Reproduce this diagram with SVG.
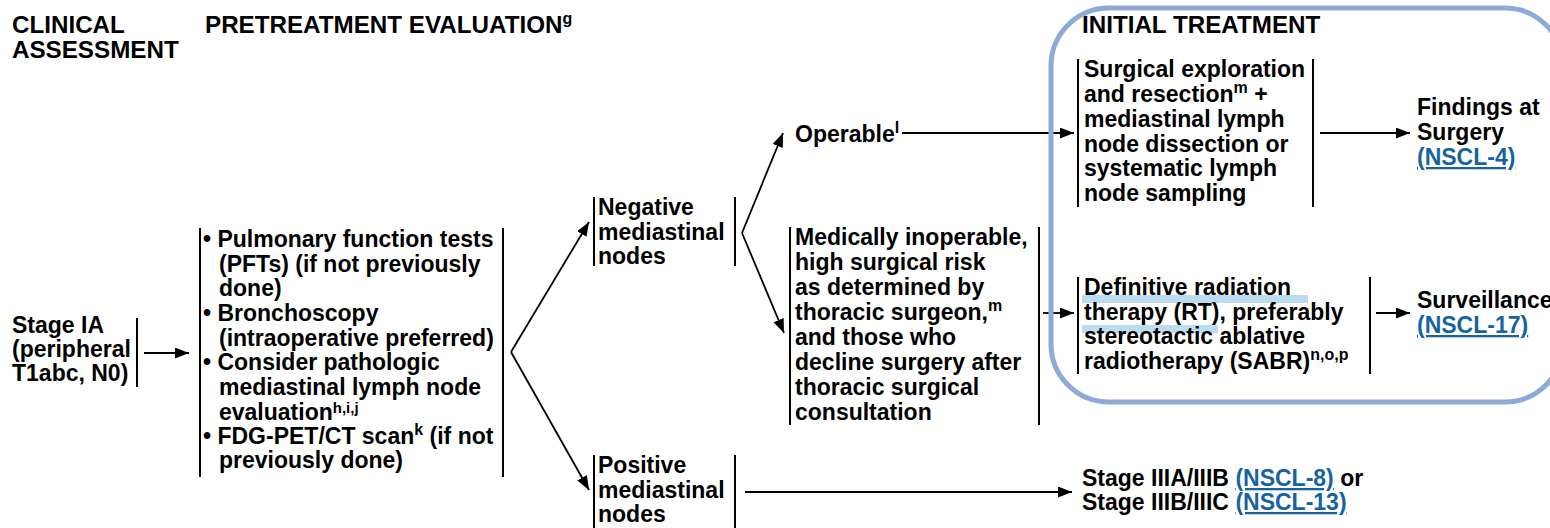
<svg xmlns="http://www.w3.org/2000/svg" width="1550" height="528" viewBox="0 0 1550 528">
<defs>
<style>
text{font-family:"Liberation Sans",Arial,sans-serif;font-weight:bold;font-size:23px;fill:#000}
.hd{font-size:24.2px}
.sup{font-size:16px}
.link{fill:#17639f;text-decoration:underline}
.br{stroke:#000;stroke-width:2;fill:none}
.cn{stroke:#000;stroke-width:1.8;fill:none}
.hl{fill:#bcdcef}
</style>
<marker id="ah" markerUnits="userSpaceOnUse" markerWidth="15" markerHeight="12" refX="14" refY="5.5" orient="auto">
<path d="M0,0 L14,5.5 L0,11 z" fill="#000"/>
</marker>
</defs>
<rect width="1550" height="528" fill="#fff"/>

<g id="headers">
<text class="hd" x="12" y="33">CLINICAL</text>
<text class="hd" x="12" y="58">ASSESSMENT</text>
<text class="hd" x="205" y="33">PRETREATMENT EVALUATION<tspan class="sup" dy="-9">g</tspan></text>
<text class="hd" x="1082" y="33">INITIAL TREATMENT</text>
</g>

<g id="connectors">
<line class="cn" x1="144" y1="353" x2="189" y2="353" marker-end="url(#ah)"/>
<line class="cn" x1="511" y1="352" x2="589" y2="222" marker-end="url(#ah)"/>
<line class="cn" x1="511" y1="352" x2="589" y2="490" marker-end="url(#ah)"/>
<line class="cn" x1="742" y1="233" x2="783" y2="133" marker-end="url(#ah)"/>
<line class="cn" x1="742" y1="233" x2="784" y2="333" marker-end="url(#ah)"/>
<line class="cn" x1="902" y1="133" x2="1074" y2="133" marker-end="url(#ah)"/>
<line class="cn" x1="1043" y1="313" x2="1074" y2="313" marker-end="url(#ah)"/>
<line class="cn" x1="1320" y1="133" x2="1410" y2="133" marker-end="url(#ah)"/>
<line class="cn" x1="1376" y1="313" x2="1410" y2="313" marker-end="url(#ah)"/>
<line class="cn" x1="745" y1="492" x2="1072" y2="492" marker-end="url(#ah)"/>
</g>

<g id="initial-treatment-frame">
<rect x="1051" y="8" width="512" height="394" rx="58" ry="58" fill="none" stroke="#8eaad9" stroke-width="5"/>
</g>

<g id="stage-ia">
<text x="12" y="333">Stage IA</text>
<text x="12" y="357">(peripheral</text>
<text x="12" y="381">T1abc, N0)</text>
<line class="br" x1="137" y1="318" x2="137" y2="387"/>
</g>

<g id="pretreatment">
<line class="br" x1="200" y1="228" x2="200" y2="477"/>
<line class="br" x1="503" y1="228" x2="503" y2="477"/>
<text x="203" y="247">• Pulmonary function tests</text>
<text x="219" y="272">(PFTs) (if not previously</text>
<text x="219" y="296">done)</text>
<text x="203" y="321">• Bronchoscopy</text>
<text x="219" y="346">(intraoperative preferred)</text>
<text x="203" y="370">• Consider pathologic</text>
<text x="219" y="395">mediastinal lymph node</text>
<text x="219" y="420">evaluation<tspan font-size="15" dy="-7">h,i,j</tspan></text>
<text x="203" y="444">• FDG-PET/CT scan<tspan class="sup" dy="-9">k</tspan><tspan dy="9"> (if not</tspan></text>
<text x="219" y="468">previously done)</text>
</g>

<g id="negative-nodes">
<line class="br" x1="594" y1="197" x2="594" y2="266"/>
<line class="br" x1="735" y1="197" x2="735" y2="266"/>
<text x="598" y="215">Negative</text>
<text x="598" y="240">mediastinal</text>
<text x="598" y="264">nodes</text>
</g>

<g id="positive-nodes">
<line class="br" x1="594" y1="455" x2="594" y2="528"/>
<line class="br" x1="735" y1="455" x2="735" y2="528"/>
<text x="598" y="473">Positive</text>
<text x="598" y="498">mediastinal</text>
<text x="598" y="522">nodes</text>
</g>

<g id="operable">
<text x="795" y="142">Operable<tspan class="sup" dy="-9">l</tspan></text>
</g>

<g id="inoperable">
<line class="br" x1="790" y1="227" x2="790" y2="425"/>
<line class="br" x1="1039" y1="227" x2="1039" y2="425"/>
<text x="795" y="245">Medically inoperable,</text>
<text x="795" y="270">high surgical risk</text>
<text x="795" y="295">as determined by</text>
<text x="795" y="320">thoracic surgeon,<tspan class="sup" dy="-9">m</tspan></text>
<text x="795" y="345">and those who</text>
<text x="795" y="370">decline surgery after</text>
<text x="795" y="395">thoracic surgical</text>
<text x="795" y="420">consultation</text>
</g>

<g id="surgery">
<line class="br" x1="1078" y1="59" x2="1078" y2="207"/>
<line class="br" x1="1313" y1="59" x2="1313" y2="207"/>
<text x="1084" y="77">Surgical exploration</text>
<text x="1084" y="102">and resection<tspan class="sup" dy="-9">m</tspan><tspan dy="9"> +</tspan></text>
<text x="1084" y="127">mediastinal lymph</text>
<text x="1084" y="152">node dissection or</text>
<text x="1084" y="176">systematic lymph</text>
<text x="1084" y="201">node sampling</text>
</g>

<g id="radiation">
<rect class="hl" x="1082" y="295" width="226" height="8"/>
<rect class="hl" x="1082" y="325" width="136" height="8"/>
<line class="br" x1="1078" y1="277" x2="1078" y2="374"/>
<line class="br" x1="1370" y1="277" x2="1370" y2="374"/>
<text x="1084" y="295">Definitive radiation</text>
<text x="1084" y="320">therapy (RT), preferably</text>
<text x="1084" y="344">stereotactic ablative</text>
<text x="1084" y="369">radiotherapy (SABR)<tspan class="sup" dy="-9">n,o,p</tspan></text>
</g>

<g id="findings">
<text x="1417" y="115">Findings at</text>
<text x="1417" y="140">Surgery</text>
<text x="1417" y="165" class="link">(NSCL-4)</text>
</g>

<g id="surveillance">
<text x="1417" y="308">Surveillance</text>
<text x="1417" y="333" class="link">(NSCL-17)</text>
</g>

<g id="stage-iii">
<text x="1082" y="486">Stage IIIA/IIIB <tspan class="link">(NSCL-8)</tspan> or</text>
<text x="1082" y="510">Stage IIIB/IIIC <tspan class="link">(NSCL-13)</tspan></text>
</g>
</svg>
